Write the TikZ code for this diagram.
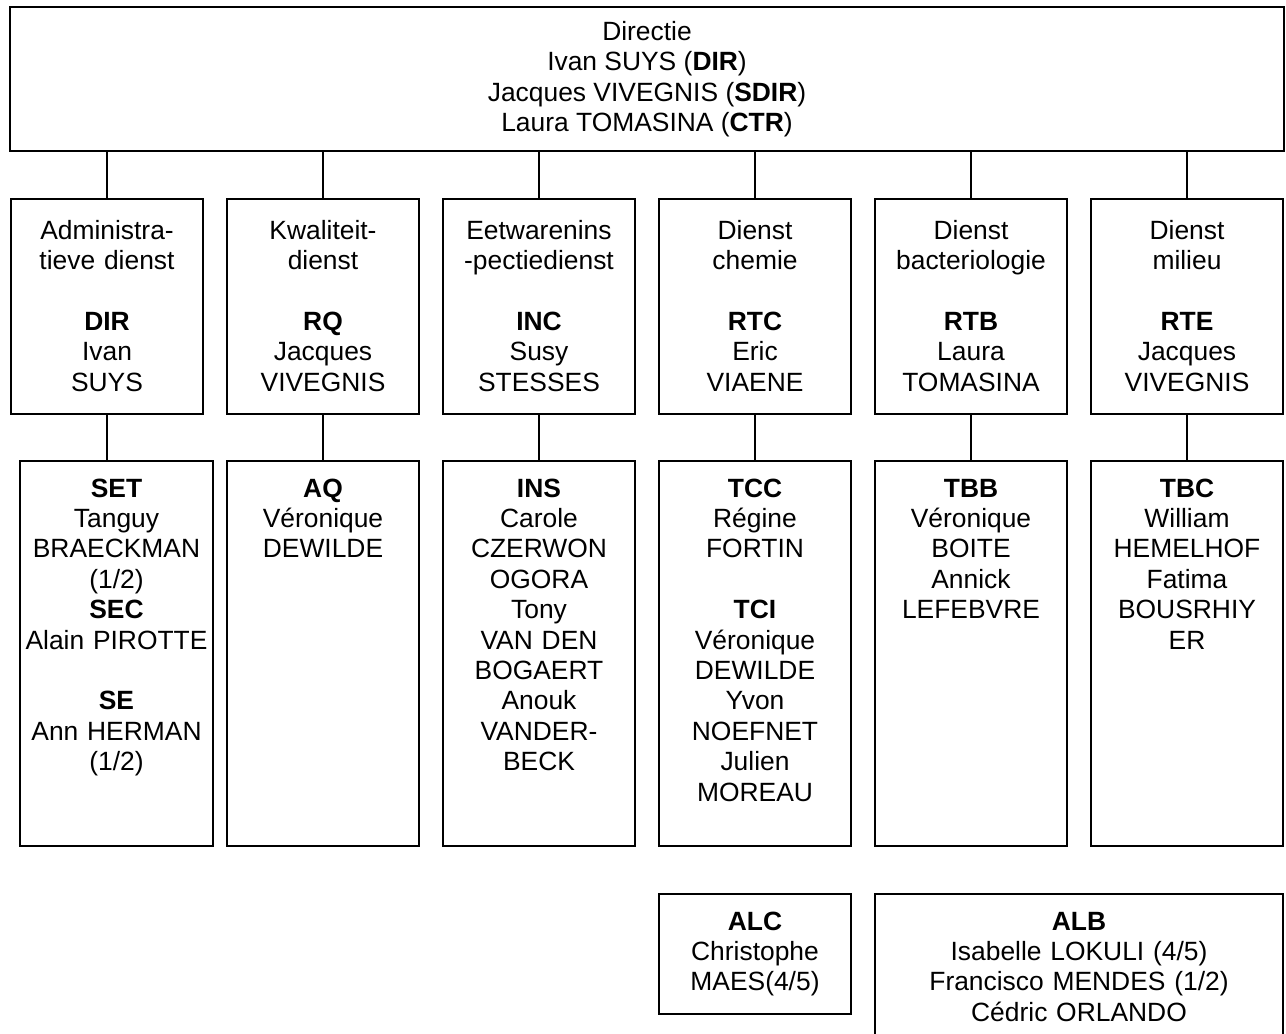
\documentclass[tikz,border=0pt]{standalone}
\usepackage{fontspec}
\setmainfont{Liberation Sans}
\usetikzlibrary{positioning}
\newcommand{\orgfont}{\fontsize{13.2}{15.2}\selectfont}

\begin{document}
\begin{tikzpicture}[
            every node/.style={font=\orgfont, inner sep=0pt, outer sep=0pt},
            link/.style={line width=0.9pt},
            box/.style={draw, line width=0.9pt, align=center},
            dienst/.style={box, text width=96pt, text height=20pt, text depth=87.5pt},
            staff/.style={box, text width=96pt, text height=18pt, text depth=174.5pt},
            extra/.style={box, text height=18pt}
        ]
        \useasboundingbox (0,0) rectangle (643pt,-517pt);

        \node[box, anchor=north west, minimum width=637pt, minimum height=72pt] (dir) at (5pt,-3.5pt)
            {Directie\\Ivan SUYS (\textbf{DIR})\\Jacques VIVEGNIS (\textbf{SDIR})\\Laura TOMASINA (\textbf{CTR})};

        % diensten
        \node[dienst, anchor=north west] (adm) at (5.5pt,-99.5pt) {Administra-\\tieve dienst\\[15.2pt]\textbf{DIR}\\Ivan\\SUYS};
        \node[dienst, right=12pt of adm] (kwal) {Kwaliteit-\\dienst\\[15.2pt]\textbf{RQ}\\Jacques\\VIVEGNIS};
        \node[dienst, right=12pt of kwal] (eet) {Eetwarenins\\-pectiedienst\\[15.2pt]\textbf{INC}\\Susy\\STESSES};
        \node[dienst, right=12pt of eet] (chem) {Dienst\\chemie\\[15.2pt]\textbf{RTC}\\Eric\\VIAENE};
        \node[dienst, right=12pt of chem] (bact) {Dienst\\bacteriologie\\[15.2pt]\textbf{RTB}\\Laura\\TOMASINA};
        \node[dienst, right=12pt of bact] (mil) {Dienst\\milieu\\[15.2pt]\textbf{RTE}\\Jacques\\VIVEGNIS};

        % personeel
        \node[staff, text width=96.5pt, anchor=north west] (set) at (10pt,-230.5pt)
            {\textbf{SET}\\Tanguy\\BRAECKMAN\\(1/2)\\\textbf{SEC}\\Alain PIROTTE\\[15.2pt]\textbf{SE}\\Ann HERMAN\\(1/2)};
        \node[staff, below=23.5pt of kwal] (aq) {\textbf{AQ}\\Véronique\\DEWILDE};
        \node[staff, below=23.5pt of eet] (ins)
            {\textbf{INS}\\Carole\\CZERWON\\OGORA\\Tony\\VAN DEN\\BOGAERT\\Anouk\\VANDER-\\BECK};
        \node[staff, below=23.5pt of chem] (tcc)
            {\textbf{TCC}\\Régine\\FORTIN\\[15.2pt]\textbf{TCI}\\Véronique\\DEWILDE\\Yvon\\NOEFNET\\Julien\\MOREAU};
        \node[staff, below=23.5pt of bact] (tbb) {\textbf{TBB}\\Véronique\\BOITE\\Annick\\LEFEBVRE};
        \node[staff, below=23.5pt of mil] (tbc) {\textbf{TBC}\\William\\HEMELHOF\\Fatima\\BOUSRHIY\\ER};

        \node[extra, text width=96pt, text depth=42pt, below=24pt of tcc] (alc) {\textbf{ALC}\\Christophe\\MAES(4/5)};
        \node[extra, text width=204pt, text depth=57pt, below=24pt of tbb.south west, anchor=north west] (alb)
            {\textbf{ALB}\\Isabelle LOKULI (4/5)\\Francisco MENDES (1/2)\\Cédric ORLANDO};

        \foreach \d/\s in {adm/set, kwal/aq, eet/ins, chem/tcc, bact/tbb, mil/tbc} {
            \draw[link] (dir.south -| \d.north) -- (\d.north);
            \draw[link] (\d.south) -- (\d.south |- \s.north);
        }
\end{tikzpicture}
\end{document}
